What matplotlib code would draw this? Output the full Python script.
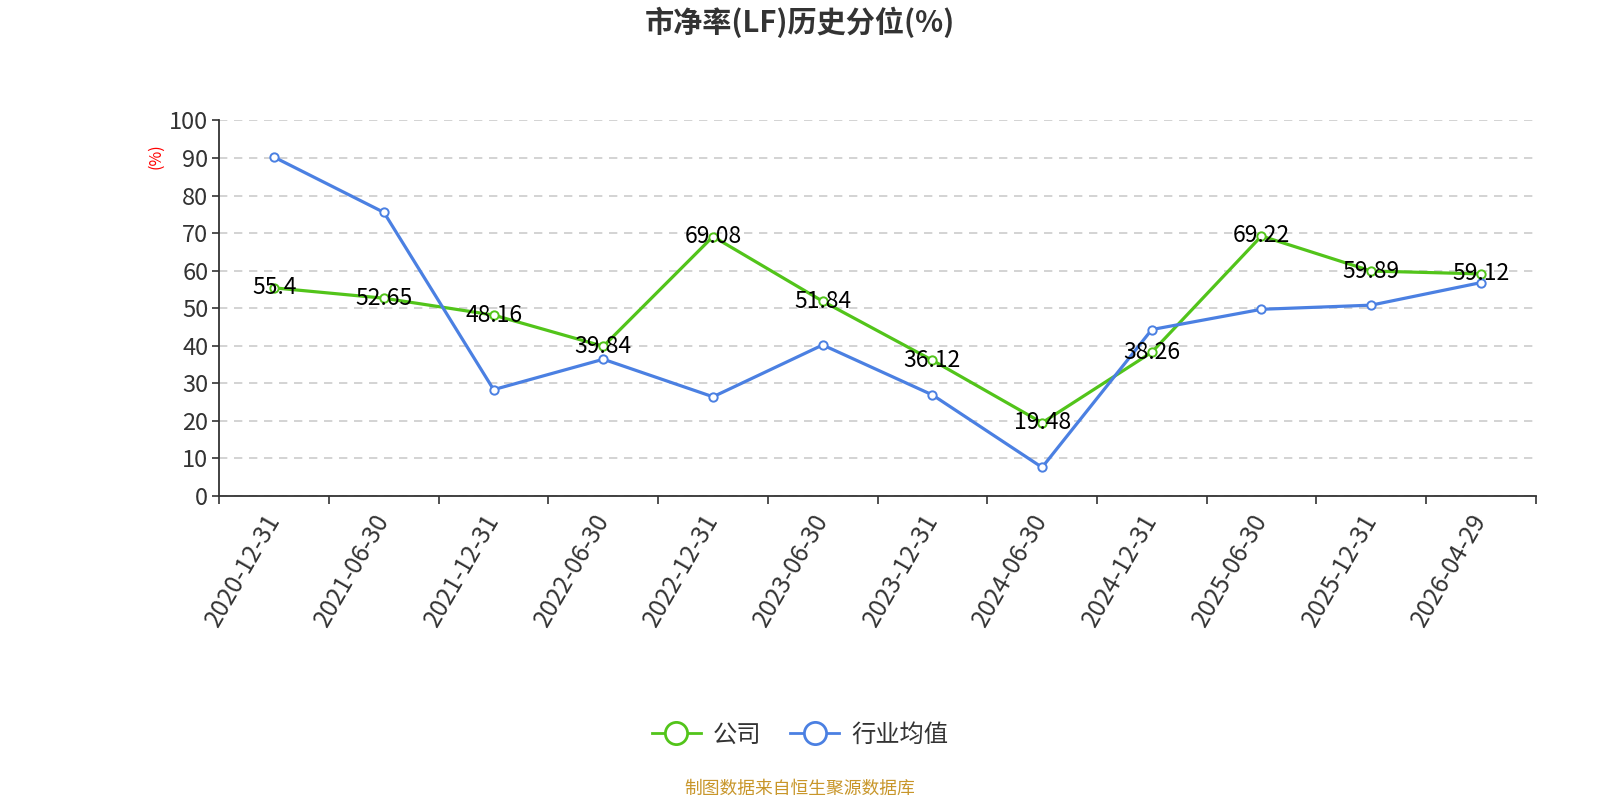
import matplotlib
matplotlib.use("Agg")
import matplotlib.pyplot as plt
from matplotlib.lines import Line2D

plt.rcParams['font.family'] = ['Noto Sans CJK SC', 'DejaVu Sans']

title = "市净率(LF)历史分位(%)"
dates = ["2020-12-31", "2021-06-30", "2021-12-31", "2022-06-30", "2022-12-31",
         "2023-06-30", "2023-12-31", "2024-06-30", "2024-12-31", "2025-06-30",
         "2025-12-31", "2026-04-29"]
company = [55.4, 52.65, 48.16, 39.84, 69.08, 51.84, 36.12, 19.48, 38.26, 69.22, 59.89, 59.12]
industry = [90.2, 75.5, 28.3, 36.4, 26.4, 40.2, 26.9, 7.6, 44.3, 49.7, 50.8, 56.8]
series_names = ["公司", "行业均值"]
source = "制图数据来自恒生聚源数据库"

green = "#52c41a"
blue = "#4b80e2"

W, H = 1568.0, 784.0
fig = plt.figure(figsize=(16, 8), dpi=100)
ax = fig.add_axes([215/W, 1-486/H, (1505-215)/W, (486-118)/H])

x = list(range(len(dates)))
ax.plot(x, company, color=green, lw=2.3, marker='o', ms=6, mfc='white',
        mec=green, mew=1.4, zorder=3)
ax.plot(x, industry, color=blue, lw=2.3, marker='o', ms=6, mfc='white',
        mec=blue, mew=1.4, zorder=4)
for xi, v in zip(x, company):
    ax.text(xi, v, f"{v:g}", ha='center', va='center', fontsize=16.5,
            color='black', zorder=5)

ax.set_xlim(-0.5, len(dates) - 0.5)
ax.set_ylim(0, 100)
ax.set_yticks(range(0, 101, 10))
ax.yaxis.grid(True, linestyle=(0, (5, 4)), color='#cccccc', lw=1.2)
ax.set_axisbelow(True)

ax.set_xticks([i - 0.5 for i in range(len(dates) + 1)])
ax.set_xticklabels([])
ax.set_xticks(x, minor=True)
ax.set_xticklabels(dates, minor=True, rotation=60, ha='right', va='center',
                   rotation_mode='anchor', fontsize=17.5, color='#333333')
ax.tick_params(axis='x', which='minor', length=0, pad=14)
ax.tick_params(axis='x', which='major', length=6, width=1.2, color='#333333')
ax.tick_params(axis='y', length=5, width=1.2, color='#333333', labelsize=17,
               labelcolor='#333333', pad=3)

for s in ['top', 'right']:
    ax.spines[s].set_visible(False)
for s in ['left', 'bottom']:
    ax.spines[s].set_color('#333333')
    ax.spines[s].set_linewidth(1.3)

fig.text(153/W, 1-153/H, "(%)", rotation=90, color='red', fontsize=11.5,
         ha='center', va='center')

fig.text(0.5, 1-22/H, title, ha='center', va='center', fontsize=21,
         fontweight='bold', color='#333333')

handles = [Line2D([0], [0], color=green, lw=2, marker='o', ms=16, mfc='white', mec=green, mew=2),
           Line2D([0], [0], color=blue, lw=2, marker='o', ms=16, mfc='white', mec=blue, mew=2)]
fig.legend(handles, series_names, loc='center', bbox_to_anchor=(0.5, 1-720/H), ncol=2,
           frameon=False, fontsize=17.5, handlelength=2.0, columnspacing=1.2,
           handletextpad=0.5, labelcolor='#333333')

fig.text(0.5, 1-773/H, source, ha='center', va='center', fontsize=12.8, color='#c8962a')

fig.savefig("out.png", dpi=100)
